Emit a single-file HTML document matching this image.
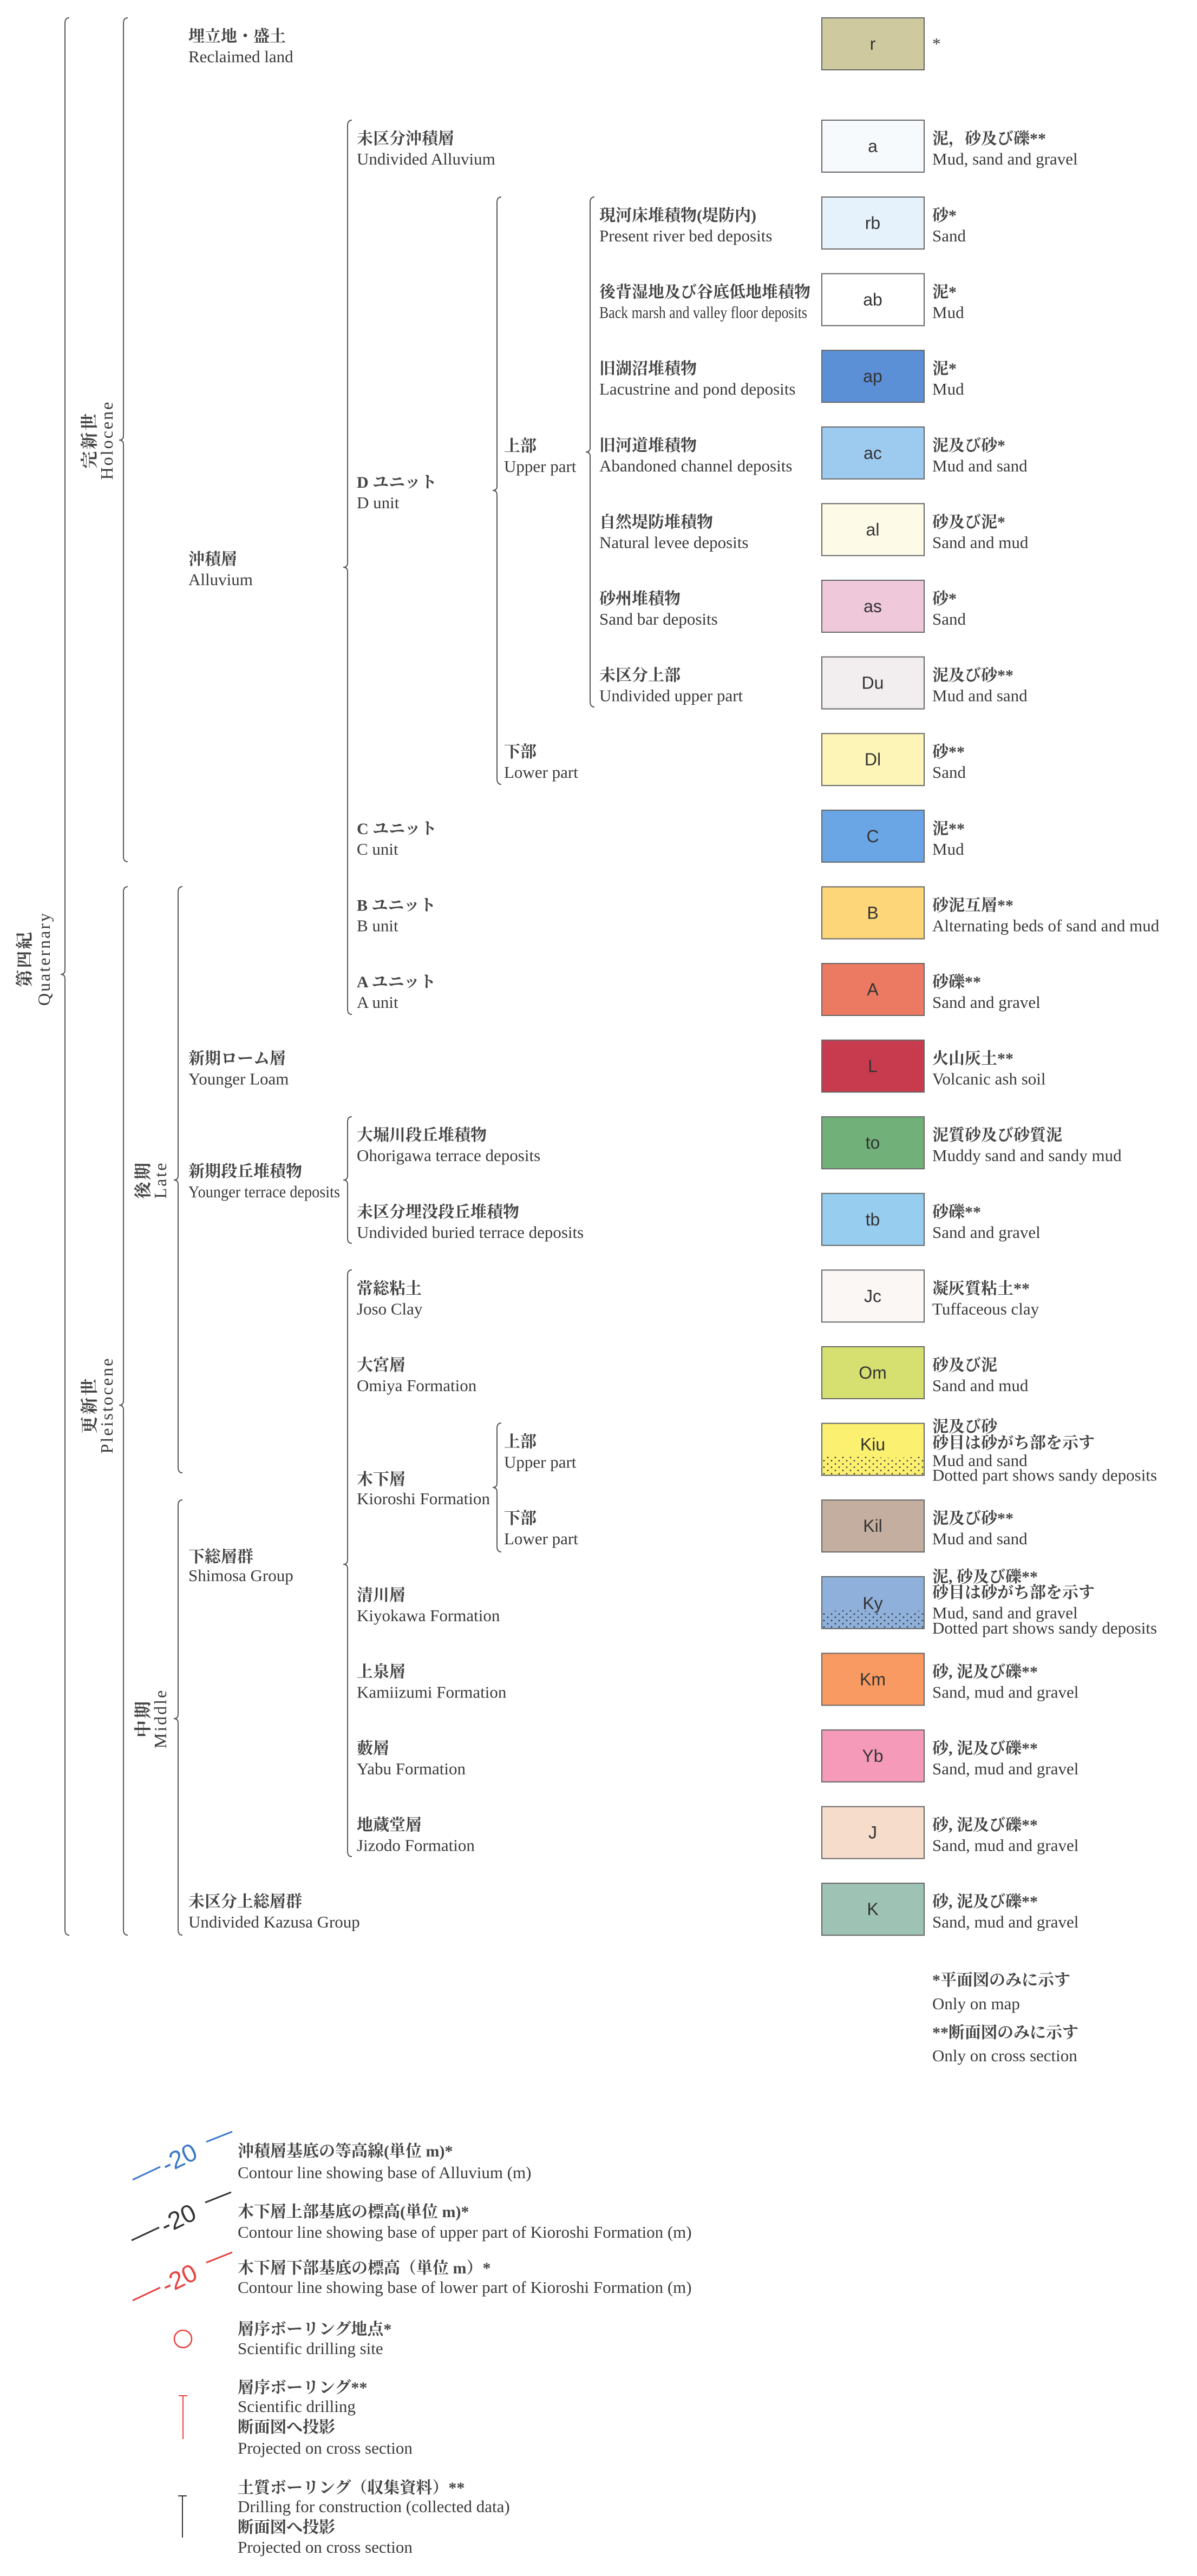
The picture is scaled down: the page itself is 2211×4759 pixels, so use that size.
<!DOCTYPE html>
<html><head><meta charset="utf-8">
<style>
html,body{margin:0;padding:0;background:#fff;}
svg{display:block;}
.j{font-family:"Liberation Serif","Noto Serif CJK JP","Noto Serif CJK SC",serif;font-size:30px;fill:#444;font-weight:bold;}
.e{font-family:"Liberation Serif","Noto Serif CJK JP",serif;font-size:31px;fill:#3a3a3a;}
.b{font-family:"Liberation Sans",sans-serif;font-size:32px;fill:#333;text-anchor:middle;}
.br{fill:none;stroke:#555;stroke-width:2;}
.bx{stroke:#666;stroke-width:2;}
.r{font-family:"Liberation Serif","Noto Serif CJK JP",serif;font-size:32px;fill:#3a3a3a;text-anchor:middle;letter-spacing:3px;}
.rj{font-weight:bold;fill:#444;}
</style></head><body>
<svg width="2211" height="4759" viewBox="0 0 2211 4759" xmlns="http://www.w3.org/2000/svg">
<defs>
<pattern id="dots" width="14" height="12" patternUnits="userSpaceOnUse">
<circle cx="3" cy="3" r="1.4" fill="#333"/><circle cx="10" cy="9" r="1.4" fill="#333"/>
</pattern>
</defs>

<!-- brackets -->
<path class="br" d="M128,33 Q120,33 120,43 L120,1792 Q120,1800 112,1800 Q120,1800 120,1808 L120,3565 Q120,3575 128,3575"/>
<path class="br" d="M236,33 Q228,33 228,43 L228,805 Q228,813 220,813 Q228,813 228,821 L228,1582 Q228,1592 236,1592"/>
<path class="br" d="M236,1638 Q228,1638 228,1648 L228,2588 Q228,2596 220,2596 Q228,2596 228,2604 L228,3565 Q228,3575 236,3575"/>
<path class="br" d="M337,1638 Q329,1638 329,1648 L329,2172 Q329,2180 321,2180 Q329,2180 329,2188 L329,2711 Q329,2721 337,2721"/>
<path class="br" d="M337,2771 Q329,2771 329,2781 L329,3167 Q329,3175 321,3175 Q329,3175 329,3183 L329,3565 Q329,3575 337,3575"/>
<path class="br" d="M650,222 Q642,222 642,232 L642,1040 Q642,1048 634,1048 Q642,1048 642,1056 L642,1864 Q642,1874 650,1874"/>
<path class="br" d="M650,2063 Q642,2063 642,2073 L642,2172 Q642,2180 634,2180 Q642,2180 642,2188 L642,2287 Q642,2297 650,2297"/>
<path class="br" d="M650,2346 Q642,2346 642,2356 L642,2882 Q642,2890 634,2890 Q642,2890 642,2898 L642,3420 Q642,3430 650,3430"/>
<path class="br" d="M926,364 Q918,364 918,374 L918,898 Q918,906 910,906 Q918,906 918,914 L918,1439 Q918,1449 926,1449"/>
<path class="br" d="M926,2629 Q918,2629 918,2639 L918,2740 Q918,2748 910,2748 Q918,2748 918,2756 L918,2857 Q918,2867 926,2867"/>
<path class="br" d="M1098,364 Q1090,364 1090,374 L1090,827 Q1090,835 1082,835 Q1090,835 1090,843 L1090,1296 Q1090,1306 1098,1306"/>

<!-- rotated labels -->
<text class="r rj" transform="translate(56,1771) rotate(-90)">第四紀</text>
<text class="r" transform="translate(92,1771) rotate(-90)">Quaternary</text>
<text class="r rj" transform="translate(176,813) rotate(-90)">完新世</text>
<text class="r" transform="translate(208,813) rotate(-90)">Holocene</text>
<text class="r rj" transform="translate(176,2596) rotate(-90)">更新世</text>
<text class="r" transform="translate(208,2596) rotate(-90)">Pleistocene</text>
<text class="r rj" transform="translate(275,2180) rotate(-90)">後期</text>
<text class="r" transform="translate(307,2180) rotate(-90)">Late</text>
<text class="r rj" transform="translate(275,3175) rotate(-90)">中期</text>
<text class="r" transform="translate(307,3175) rotate(-90)">Middle</text>

<!-- free labels -->
<text class="j" x="348" y="1043">沖積層</text><text class="e" x="348" y="1081">Alluvium</text>
<text class="j" x="659" y="901">D ユニット</text><text class="e" x="659" y="939">D unit</text>
<text class="j" x="931" y="834">上部</text><text class="e" x="931" y="872">Upper part</text>
<text class="j" x="348" y="2174">新期段丘堆積物</text><text class="e" x="348" y="2212" textLength="280" lengthAdjust="spacingAndGlyphs">Younger terrace deposits</text>
<text class="j" x="659" y="2743">木下層</text><text class="e" x="659" y="2779" textLength="246" lengthAdjust="spacingAndGlyphs">Kioroshi Formation</text>
<text class="j" x="348" y="2886">下総層群</text><text class="e" x="348" y="2921">Shimosa Group</text>

<!-- rows -->
<g transform="translate(0,33)"><rect class="bx" x="1518" y="0" width="189" height="96" fill="#cfc9a0"/><text class="b" x="1612" y="59">r</text>
<text class="j" x="348" y="44">埋立地・盛土</text><text class="e" x="348" y="82">Reclaimed land</text>
<text class="e" x="1722" y="58">*</text></g>

<g transform="translate(0,222)"><rect class="bx" x="1518" y="0" width="189" height="96" fill="#f7fafc"/><text class="b" x="1612" y="59">a</text>
<text class="j" x="659" y="44">未区分沖積層</text><text class="e" x="659" y="82">Undivided Alluvium</text>
<text class="j" x="1722" y="44">泥，砂及び礫**</text><text class="e" x="1722" y="82">Mud, sand and gravel</text></g>

<g transform="translate(0,364)"><rect class="bx" x="1518" y="0" width="189" height="96" fill="#e6f2fb"/><text class="b" x="1612" y="59">rb</text>
<text class="j" x="1107" y="44">現河床堆積物(堤防内)</text><text class="e" x="1107" y="82">Present river bed deposits</text>
<text class="j" x="1722" y="44">砂*</text><text class="e" x="1722" y="82">Sand</text></g>

<g transform="translate(0,505.6)"><rect class="bx" x="1518" y="0" width="189" height="96" fill="#ffffff"/><text class="b" x="1612" y="59">ab</text>
<text class="j" x="1107" y="44">後背湿地及び谷底低地堆積物</text><text class="e" x="1107" y="82" textLength="384" lengthAdjust="spacingAndGlyphs">Back marsh and valley floor deposits</text>
<text class="j" x="1722" y="44">泥*</text><text class="e" x="1722" y="82">Mud</text></g>

<g transform="translate(0,647.2)"><rect class="bx" x="1518" y="0" width="189" height="96" fill="#5b8fd6"/><text class="b" x="1612" y="59">ap</text>
<text class="j" x="1107" y="44">旧湖沼堆積物</text><text class="e" x="1107" y="82">Lacustrine and pond deposits</text>
<text class="j" x="1722" y="44">泥*</text><text class="e" x="1722" y="82">Mud</text></g>

<g transform="translate(0,788.8)"><rect class="bx" x="1518" y="0" width="189" height="96" fill="#9dcbf0"/><text class="b" x="1612" y="59">ac</text>
<text class="j" x="1107" y="44">旧河道堆積物</text><text class="e" x="1107" y="82">Abandoned channel deposits</text>
<text class="j" x="1722" y="44">泥及び砂*</text><text class="e" x="1722" y="82">Mud and sand</text></g>

<g transform="translate(0,930.4)"><rect class="bx" x="1518" y="0" width="189" height="96" fill="#fdfbe8"/><text class="b" x="1612" y="59">al</text>
<text class="j" x="1107" y="44">自然堤防堆積物</text><text class="e" x="1107" y="82">Natural levee deposits</text>
<text class="j" x="1722" y="44">砂及び泥*</text><text class="e" x="1722" y="82">Sand and mud</text></g>

<g transform="translate(0,1072)"><rect class="bx" x="1518" y="0" width="189" height="96" fill="#efc8da"/><text class="b" x="1612" y="59">as</text>
<text class="j" x="1107" y="44">砂州堆積物</text><text class="e" x="1107" y="82">Sand bar deposits</text>
<text class="j" x="1722" y="44">砂*</text><text class="e" x="1722" y="82">Sand</text></g>

<g transform="translate(0,1213.6)"><rect class="bx" x="1518" y="0" width="189" height="96" fill="#f2eef0"/><text class="b" x="1612" y="59">Du</text>
<text class="j" x="1107" y="44">未区分上部</text><text class="e" x="1107" y="82">Undivided upper part</text>
<text class="j" x="1722" y="44">泥及び砂**</text><text class="e" x="1722" y="82">Mud and sand</text></g>

<g transform="translate(0,1355.2)"><rect class="bx" x="1518" y="0" width="189" height="96" fill="#fdf5b8"/><text class="b" x="1612" y="59">Dl</text>
<text class="j" x="931" y="44">下部</text><text class="e" x="931" y="82">Lower part</text>
<text class="j" x="1722" y="44">砂**</text><text class="e" x="1722" y="82">Sand</text></g>

<g transform="translate(0,1496.8)"><rect class="bx" x="1518" y="0" width="189" height="96" fill="#6aa6e6"/><text class="b" x="1612" y="59">C</text>
<text class="j" x="659" y="44">C ユニット</text><text class="e" x="659" y="82">C unit</text>
<text class="j" x="1722" y="44">泥**</text><text class="e" x="1722" y="82">Mud</text></g>

<g transform="translate(0,1638.4)"><rect class="bx" x="1518" y="0" width="189" height="96" fill="#fdd67a"/><text class="b" x="1612" y="59">B</text>
<text class="j" x="659" y="44">B ユニット</text><text class="e" x="659" y="82">B unit</text>
<text class="j" x="1722" y="44">砂泥互層**</text><text class="e" x="1722" y="82">Alternating beds of sand and mud</text></g>

<g transform="translate(0,1780)"><rect class="bx" x="1518" y="0" width="189" height="96" fill="#ec7a62"/><text class="b" x="1612" y="59">A</text>
<text class="j" x="659" y="44">A ユニット</text><text class="e" x="659" y="82">A unit</text>
<text class="j" x="1722" y="44">砂礫**</text><text class="e" x="1722" y="82">Sand and gravel</text></g>

<g transform="translate(0,1921.6)"><rect class="bx" x="1518" y="0" width="189" height="96" fill="#c83a4e"/><text class="b" x="1612" y="59">L</text>
<text class="j" x="348" y="44">新期ローム層</text><text class="e" x="348" y="82">Younger Loam</text>
<text class="j" x="1722" y="44">火山灰土**</text><text class="e" x="1722" y="82">Volcanic ash soil</text></g>

<g transform="translate(0,2063.2)"><rect class="bx" x="1518" y="0" width="189" height="96" fill="#72b07a"/><text class="b" x="1612" y="59">to</text>
<text class="j" x="659" y="44">大堀川段丘堆積物</text><text class="e" x="659" y="82">Ohorigawa terrace deposits</text>
<text class="j" x="1722" y="44">泥質砂及び砂質泥</text><text class="e" x="1722" y="82">Muddy sand and sandy mud</text></g>

<g transform="translate(0,2204.8)"><rect class="bx" x="1518" y="0" width="189" height="96" fill="#97cdee"/><text class="b" x="1612" y="59">tb</text>
<text class="j" x="659" y="44">未区分埋没段丘堆積物</text><text class="e" x="659" y="82">Undivided buried terrace deposits</text>
<text class="j" x="1722" y="44">砂礫**</text><text class="e" x="1722" y="82">Sand and gravel</text></g>

<g transform="translate(0,2346.4)"><rect class="bx" x="1518" y="0" width="189" height="96" fill="#fbf7f5"/><text class="b" x="1612" y="59">Jc</text>
<text class="j" x="659" y="44">常総粘土</text><text class="e" x="659" y="82">Joso Clay</text>
<text class="j" x="1722" y="44">凝灰質粘土**</text><text class="e" x="1722" y="82">Tuffaceous clay</text></g>

<g transform="translate(0,2488)"><rect class="bx" x="1518" y="0" width="189" height="96" fill="#d6e070"/><text class="b" x="1612" y="59">Om</text>
<text class="j" x="659" y="44">大宮層</text><text class="e" x="659" y="82">Omiya Formation</text>
<text class="j" x="1722" y="44">砂及び泥</text><text class="e" x="1722" y="82">Sand and mud</text></g>

<g transform="translate(0,2629.6)"><rect class="bx" x="1518" y="0" width="189" height="96" fill="#fbf070"/>
<path d="M1519,62 Q1560,58 1612,62 T1706,60 L1706,95 L1519,95 Z" fill="url(#dots)"/>
<text class="b" x="1612" y="50">Kiu</text>
<text class="j" x="931" y="44">上部</text><text class="e" x="931" y="82">Upper part</text>
<text class="j" x="1722" y="16">泥及び砂</text><text class="j" x="1722" y="46">砂目は砂がち部を示す</text>
<text class="e" x="1722" y="79">Mud and sand</text><text class="e" x="1722" y="106">Dotted part shows sandy deposits</text></g>

<g transform="translate(0,2771.2)"><rect class="bx" x="1518" y="0" width="189" height="96" fill="#c4aea0"/><text class="b" x="1612" y="59">Kil</text>
<text class="j" x="931" y="44">下部</text><text class="e" x="931" y="82">Lower part</text>
<text class="j" x="1722" y="44">泥及び砂**</text><text class="e" x="1722" y="82">Mud and sand</text></g>

<g transform="translate(0,2912.8)"><rect class="bx" x="1518" y="0" width="189" height="96" fill="#8eb0da"/>
<path d="M1519,65 Q1560,60 1612,64 T1706,62 L1706,95 L1519,95 Z" fill="url(#dots)"/>
<text class="b" x="1612" y="60">Ky</text>
<text class="j" x="659" y="44">清川層</text><text class="e" x="659" y="82">Kiyokawa Formation</text>
<text class="j" x="1722" y="10">泥, 砂及び礫**</text><text class="j" x="1722" y="39">砂目は砂がち部を示す</text>
<text class="e" x="1722" y="77">Mud, sand and gravel</text><text class="e" x="1722" y="105">Dotted part shows sandy deposits</text></g>

<g transform="translate(0,3054.4)"><rect class="bx" x="1518" y="0" width="189" height="96" fill="#f89a62"/><text class="b" x="1612" y="59">Km</text>
<text class="j" x="659" y="44">上泉層</text><text class="e" x="659" y="82">Kamiizumi Formation</text>
<text class="j" x="1722" y="44">砂, 泥及び礫**</text><text class="e" x="1722" y="82">Sand, mud and gravel</text></g>

<g transform="translate(0,3196)"><rect class="bx" x="1518" y="0" width="189" height="96" fill="#f59ab8"/><text class="b" x="1612" y="59">Yb</text>
<text class="j" x="659" y="44">藪層</text><text class="e" x="659" y="82">Yabu Formation</text>
<text class="j" x="1722" y="44">砂, 泥及び礫**</text><text class="e" x="1722" y="82">Sand, mud and gravel</text></g>

<g transform="translate(0,3337.6)"><rect class="bx" x="1518" y="0" width="189" height="96" fill="#f6dccb"/><text class="b" x="1612" y="59">J</text>
<text class="j" x="659" y="44">地蔵堂層</text><text class="e" x="659" y="82">Jizodo Formation</text>
<text class="j" x="1722" y="44">砂, 泥及び礫**</text><text class="e" x="1722" y="82">Sand, mud and gravel</text></g>

<g transform="translate(0,3479.2)"><rect class="bx" x="1518" y="0" width="189" height="96" fill="#9ec2b4"/><text class="b" x="1612" y="59">K</text>
<text class="j" x="348" y="44">未区分上総層群</text><text class="e" x="348" y="82">Undivided Kazusa Group</text>
<text class="j" x="1722" y="44">砂, 泥及び礫**</text><text class="e" x="1722" y="82">Sand, mud and gravel</text></g>

<!-- footnotes -->
<text class="j" x="1722" y="3668">*平面図のみに示す</text>
<text class="e" x="1722" y="3712">Only on map</text>
<text class="j" x="1722" y="3765">**断面図のみに示す</text>
<text class="e" x="1722" y="3808">Only on cross section</text>

<!-- lower legend -->
<g stroke-width="3" fill="none">
<line x1="245" y1="4027" x2="296" y2="4003" stroke="#3a78c8"/><line x1="381" y1="3957" x2="429" y2="3938" stroke="#3a78c8"/>
<line x1="243" y1="4139" x2="294" y2="4115" stroke="#333"/><line x1="379" y1="4069" x2="427" y2="4050" stroke="#333"/>
<line x1="245" y1="4250" x2="296" y2="4226" stroke="#e84040"/><line x1="381" y1="4180" x2="429" y2="4161" stroke="#e84040"/>
</g>
<text transform="translate(338,4001) rotate(-26)" text-anchor="middle" style="font-family:'Liberation Sans',sans-serif;font-size:46px;fill:#3a78c8">-20</text>
<text transform="translate(336,4113) rotate(-26)" text-anchor="middle" style="font-family:'Liberation Sans',sans-serif;font-size:46px;fill:#333">-20</text>
<text transform="translate(338,4224) rotate(-26)" text-anchor="middle" style="font-family:'Liberation Sans',sans-serif;font-size:46px;fill:#e84040">-20</text>

<text class="j" x="439" y="3984">沖積層基底の等高線(単位 m)*</text>
<text class="e" x="439" y="4024">Contour line showing  base of Alluvium (m)</text>
<text class="j" x="439" y="4096">木下層上部基底の標高(単位 m)*</text>
<text class="e" x="439" y="4134">Contour line showing base of upper part of Kioroshi Formation (m)</text>
<text class="j" x="439" y="4200">木下層下部基底の標高（単位 m）*</text>
<text class="e" x="439" y="4236">Contour line showing base of lower part of Kioroshi Formation (m)</text>

<circle cx="338" cy="4321" r="16" fill="none" stroke="#e84040" stroke-width="2.5"/>
<text class="j" x="439" y="4313">層序ボーリング地点*</text>
<text class="e" x="439" y="4349">Scientific drilling site</text>

<g stroke="#e84040" stroke-width="2"><line x1="338" y1="4426" x2="338" y2="4506"/><line x1="330" y1="4426" x2="346" y2="4426"/></g>
<text class="j" x="439" y="4421">層序ボーリング**</text>
<text class="e" x="439" y="4456">Scientific drilling</text>
<text class="j" x="439" y="4494">断面図へ投影</text>
<text class="e" x="439" y="4533">Projected on cross section</text>

<g stroke="#333" stroke-width="2"><line x1="337" y1="4611" x2="337" y2="4688"/><line x1="329" y1="4611" x2="345" y2="4611"/></g>
<text class="j" x="439" y="4606">土質ボーリング（収集資料）**</text>
<text class="e" x="439" y="4641">Drilling for construction (collected data)</text>
<text class="j" x="439" y="4679">断面図へ投影</text>
<text class="e" x="439" y="4716">Projected on cross section</text>
</svg>
</body></html>
